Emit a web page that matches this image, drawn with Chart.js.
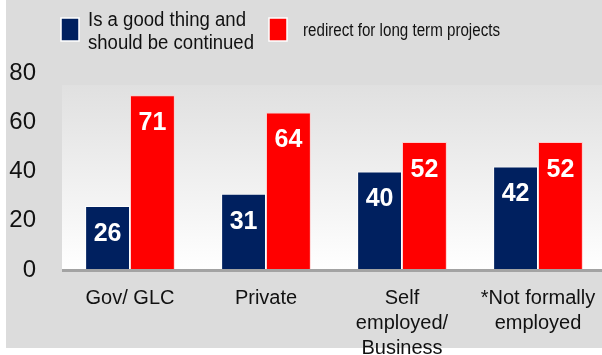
<!DOCTYPE html>
<html>
<head>
<meta charset="utf-8">
<script src="https://cdn.jsdelivr.net/npm/chart.js@4/dist/chart.umd.min.js"></script>
<style>
html,body{margin:0;padding:0;background:#fff;overflow:hidden;width:602px;height:355px;}
#wrap{position:relative;width:606px;height:355px;}
canvas{display:block;}
</style>
</head>
<body>
<div id="wrap"><canvas id="c" width="606" height="355"></canvas></div>
<script>
const categories = ["Gov/ GLC", "Private", ["Self", "employed/", "Business"], ["*Not formally", "employed"]];
const seriesNames = [["Is a good thing and", "should be continued"], "redirect for long term projects"];
const continuedValues = [26, 31, 40, 42];
const redirectValues = [71, 64, 52, 52];
const yTicks = [0, 20, 40, 60, 80];

const NAVY = '#00205f';
const RED = '#ff0000';
const FONT = '"Liberation Sans", Arial, Helvetica, sans-serif';

const bgPlugin = {
  id: 'bg',
  beforeDraw(chart) {
    const ctx = chart.ctx, W = chart.width, H = chart.height;
    const a = chart.chartArea;
    ctx.save();
    ctx.fillStyle = '#ffffff';
    ctx.fillRect(0, 0, W, H);
    ctx.fillStyle = '#dcdcdc';
    ctx.fillRect(6, 0, W - 6, 348);
    const top = 85;
    const g = ctx.createLinearGradient(0, top, 0, a.bottom);
    g.addColorStop(0, '#e0e0e0');
    g.addColorStop(1, '#ffffff');
    ctx.fillStyle = g;
    ctx.fillRect(a.left, top, W - a.left, a.bottom - top);
    ctx.restore();
  }
};

const overlayPlugin = {
  id: 'overlay',
  afterDatasetsDraw(chart) {
    const ctx = chart.ctx, a = chart.chartArea;
    ctx.save();
    ctx.fillStyle = '#a3a3a3';
    ctx.fillRect(a.left, a.bottom - 1, chart.width - a.left, 3);
    ctx.fillStyle = '#ffffff';
    ctx.font = 'bold 25px ' + FONT;
    ctx.textAlign = 'center';
    ctx.textBaseline = 'middle';
    chart.data.datasets.forEach((ds, i) => {
      const meta = chart.getDatasetMeta(i);
      meta.data.forEach((bar, j) => {
        ctx.fillText(String(ds.data[j]), bar.x, bar.y + 28);
      });
    });
    ctx.restore();
  },
  afterDraw(chart) {
    const ctx = chart.ctx;
    ctx.save();
    const box = (x, y, w, h, col) => {
      ctx.fillStyle = col;
      ctx.fillRect(x, y, w, h);
      ctx.strokeStyle = '#ffffff';
      ctx.lineWidth = 1.5;
      ctx.strokeRect(x, y, w, h);
    };
    box(61, 18, 18, 23, chart.data.datasets[0].backgroundColor);
    box(269, 18, 18, 23, chart.data.datasets[1].backgroundColor);
    ctx.fillStyle = '#111111';
    ctx.textAlign = 'left';
    ctx.textBaseline = 'alphabetic';
    ctx.font = '20px ' + FONT;
    const l0 = seriesNames[0];
    ctx.fillText(l0[0], 88, 26, 158);
    ctx.fillText(l0[1], 88, 49, 166);
    ctx.font = '18px ' + FONT;
    ctx.fillText(seriesNames[1], 303, 36, 197);
    ctx.restore();
  }
};

new Chart(document.getElementById('c'), {
  type: 'bar',
  data: {
    labels: categories,
    datasets: [
      {
        label: seriesNames[0].join(' '),
        data: continuedValues,
        backgroundColor: NAVY,
        borderColor: 'rgba(255,255,255,0.75)',
        borderWidth: 1,
        barPercentage: 1,
        categoryPercentage: 0.66
      },
      {
        label: seriesNames[1],
        data: redirectValues,
        backgroundColor: RED,
        borderColor: 'rgba(255,200,200,0.8)',
        borderWidth: 1,
        barPercentage: 1,
        categoryPercentage: 0.66
      }
    ]
  },
  options: {
    responsive: false,
    animation: false,
    devicePixelRatio: 1,
    layout: { padding: { top: 73, left: 0, right: 0, bottom: 0 } },
    plugins: { legend: { display: false }, tooltip: { enabled: false } },
    scales: {
      x: {
        grid: { display: false },
        border: { display: false },
        ticks: {
          color: '#111111',
          font: { family: FONT, size: 20, lineHeight: 1.25 },
          maxRotation: 0,
          autoSkip: false,
          padding: 8
        },
        afterFit(scale) { scale.height = 85; }
      },
      y: {
        min: 0,
        max: 80,
        afterBuildTicks(scale) { scale.ticks = yTicks.map(v => ({ value: v })); },
        grid: { display: false },
        border: { display: false },
        ticks: {
          color: '#111111',
          font: { family: FONT, size: 24 },
          padding: 18
        },
        afterFit(scale) { scale.width = 62; }
      }
    }
  },
  plugins: [bgPlugin, overlayPlugin]
});
</script>
</body>
</html>
